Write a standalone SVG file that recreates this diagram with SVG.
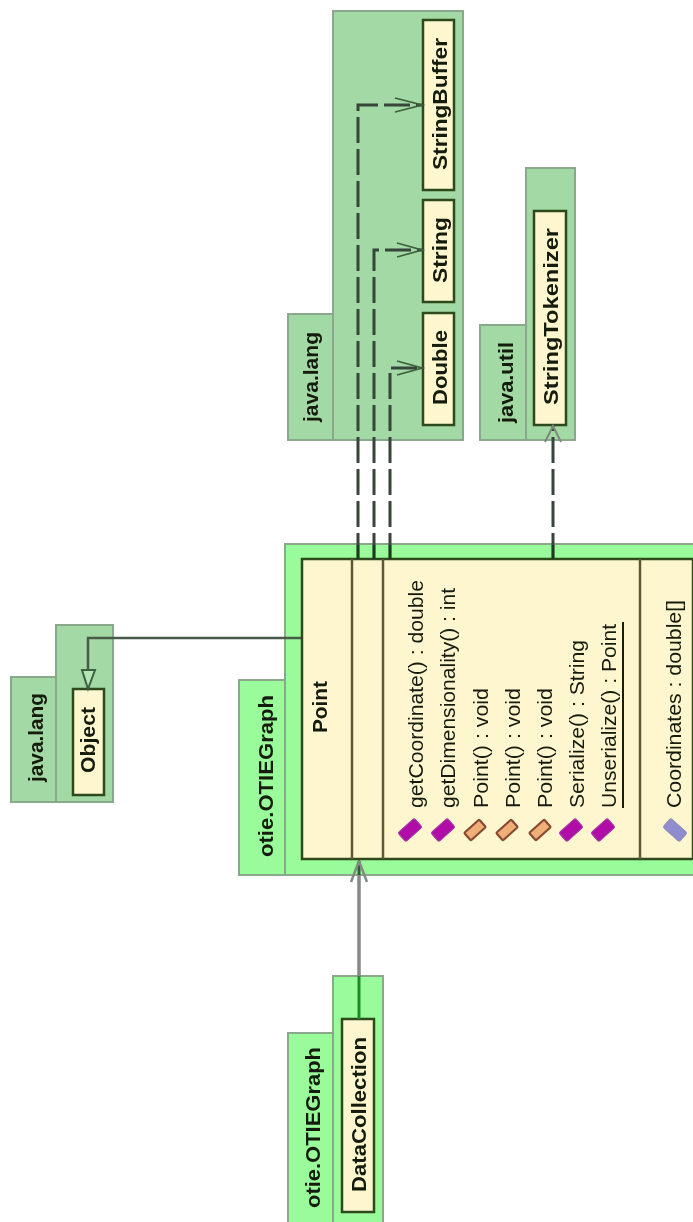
<svg xmlns="http://www.w3.org/2000/svg" width="693" height="1222" viewBox="0 0 693 1222">
<style>
text{font-family:"Liberation Sans",Arial,sans-serif;fill:#141a0c}
.lib{fill:#a3d9a5;stroke:#8aa88c;stroke-width:2}
.own{fill:#99fb99;stroke:#8aa88c;stroke-width:2}
.cls{fill:#fdf6cf;stroke:#2f4a1c;stroke-width:2.5}
.sep{stroke:#5c5a3a;stroke-width:2.5;fill:none}
.b{font-weight:bold;font-size:20px}
.m{font-size:21px}
.dash{fill:none;stroke:#37453a;stroke-width:3;stroke-dasharray:26 6}
.head{fill:none;stroke:#3d5f3f;stroke-width:1.8}
.pub{fill:#b011a8;stroke:#a03aa0;stroke-width:1}
.pri{fill:#eeb078;stroke:#8a4a30;stroke-width:2.2}
.fld{fill:#8f8ccf;stroke:#8f8fb8;stroke-width:1}
</style>
<defs>
<filter id="soft" x="0" y="0" width="693" height="1222" filterUnits="userSpaceOnUse"><feGaussianBlur stdDeviation="0.7"/></filter>
</defs>
<rect width="693" height="1222" fill="#fff"/>
<g filter="url(#soft)">
<g id="pkg-java-lang-top">
<rect class="lib" x="288" y="314" width="45" height="126"/>
<rect class="lib" x="333" y="11" width="130" height="429"/>
<text class="b" transform="translate(318 422) rotate(-90)" textLength="90" lengthAdjust="spacingAndGlyphs">java.lang</text>
</g>
<g id="pkg-java-util">
<rect class="lib" x="480" y="325" width="46" height="115"/>
<rect class="lib" x="526" y="168" width="49" height="272"/>
<text class="b" transform="translate(513 423) rotate(-90)" textLength="81" lengthAdjust="spacingAndGlyphs">java.util</text>
</g>
<g id="pkg-java-lang-object">
<rect class="lib" x="11" y="677" width="45" height="125"/>
<rect class="lib" x="56" y="625" width="57" height="177"/>
<text class="b" transform="translate(43 782) rotate(-90)" textLength="89" lengthAdjust="spacingAndGlyphs">java.lang</text>
</g>
<g id="pkg-otie-point">
<rect class="own" x="239" y="680" width="46" height="195"/>
<rect class="own" x="285" y="544" width="410" height="331"/>
<text class="b" transform="translate(273 857) rotate(-90)" textLength="162" lengthAdjust="spacingAndGlyphs">otie.OTIEGraph</text>
</g>
<g id="pkg-otie-datacollection">
<rect class="own" x="288" y="1033" width="45" height="191"/>
<rect class="own" x="333" y="976" width="50" height="248"/>
<text class="b" transform="translate(320 1208) rotate(-90)" textLength="161" lengthAdjust="spacingAndGlyphs">otie.OTIEGraph</text>
</g>
<g id="class-StringBuffer">
<rect class="cls" x="423" y="20" width="31" height="170"/>
<text class="b" transform="translate(447 170) rotate(-90)" textLength="132" lengthAdjust="spacingAndGlyphs">StringBuffer</text>
</g>
<g id="class-String">
<rect class="cls" x="423" y="200" width="31" height="102"/>
<text class="b" transform="translate(447 283) rotate(-90)" textLength="66" lengthAdjust="spacingAndGlyphs">String</text>
</g>
<g id="class-Double">
<rect class="cls" x="423" y="313" width="31" height="112"/>
<text class="b" transform="translate(447 405) rotate(-90)" textLength="75" lengthAdjust="spacingAndGlyphs">Double</text>
</g>
<g id="class-StringTokenizer">
<rect class="cls" x="534" y="211" width="32" height="214"/>
<text class="b" transform="translate(558 405) rotate(-90)" textLength="177" lengthAdjust="spacingAndGlyphs">StringTokenizer</text>
</g>
<g id="class-Object">
<rect class="cls" x="73" y="689" width="31" height="106"/>
<text class="b" transform="translate(95 773) rotate(-90)" textLength="66" lengthAdjust="spacingAndGlyphs">Object</text>
</g>
<g id="class-DataCollection">
<rect class="cls" x="342" y="1019" width="32" height="193"/>
<text class="b" transform="translate(366 1192) rotate(-90)" textLength="155" lengthAdjust="spacingAndGlyphs">DataCollection</text>
</g>
<g id="connectors">
<path class="dash" d="M358 559V105H423"/>
<path class="dash" d="M374 559V250H423"/>
<path class="dash" d="M390 559V368H423"/>
<path class="head" d="M395 98L422 105L395 112"/>
<path class="head" d="M397 243L422 250L397 257"/>
<path class="head" d="M397 361L422 368L397 375"/>
<path class="dash" d="M553 559V425"/>
<path d="M545 442L553 426L561 442" fill="none" stroke="#7a8a7a" stroke-width="2"/>
<path d="M302 638H88V671" fill="none" stroke="#4a5a48" stroke-width="2.5"/>
<path d="M88 689L82 670H95Z" fill="#b5e6b5" stroke="#3d5f3f" stroke-width="2"/>
<path d="M359 976V875" fill="none" stroke="#848a84" stroke-width="3.5"/>
<path d="M359 1019V976" fill="none" stroke="#1e8a2a" stroke-width="3"/>
<path d="M359 875V861" fill="none" stroke="#2f5a3a" stroke-width="3"/>
<path d="M351 882L359 861L367 882" fill="none" stroke="#848a84" stroke-width="2.5"/>
</g>
<g id="class-Point">
<rect class="cls" x="302" y="559" width="391" height="300"/>
<path class="sep" d="M352 559V859M383 559V859M640 559V859"/>
<text class="b" transform="translate(327 733) rotate(-90)" textLength="52" lengthAdjust="spacingAndGlyphs">Point</text>
<text class="m" transform="translate(423 808) rotate(-90)" textLength="228" lengthAdjust="spacingAndGlyphs">getCoordinate() : double</text>
<text class="m" transform="translate(455 808) rotate(-90)" textLength="220" lengthAdjust="spacingAndGlyphs">getDimensionality() : int</text>
<text class="m" transform="translate(488 808) rotate(-90)" textLength="120" lengthAdjust="spacingAndGlyphs">Point() : void</text>
<text class="m" transform="translate(520 808) rotate(-90)" textLength="120" lengthAdjust="spacingAndGlyphs">Point() : void</text>
<text class="m" transform="translate(552 808) rotate(-90)" textLength="120" lengthAdjust="spacingAndGlyphs">Point() : void</text>
<text class="m" transform="translate(584 808) rotate(-90)" textLength="168" lengthAdjust="spacingAndGlyphs">Serialize() : String</text>
<text class="m" transform="translate(616 808) rotate(-90)" textLength="184" lengthAdjust="spacingAndGlyphs">Unserialize() : Point</text>
<path d="M623 808V622" stroke="#1a1a10" stroke-width="2" fill="none"/>
<text class="m" transform="translate(681 808) rotate(-90)" textLength="208" lengthAdjust="spacingAndGlyphs">Coordinates : double[]</text>
<g id="icons">
<rect class="pub" x="399" y="824" width="22" height="12" rx="2" transform="rotate(-42 410 830)"/>
<rect class="pub" x="432" y="824" width="22" height="12" rx="2" transform="rotate(-42 443 830)"/>
<rect class="pri" x="465" y="825" width="20" height="10" rx="1" transform="rotate(-42 475 830)"/>
<rect class="pri" x="497" y="825" width="20" height="10" rx="1" transform="rotate(-42 507 830)"/>
<rect class="pri" x="530" y="825" width="20" height="10" rx="1" transform="rotate(-42 540 830)"/>
<rect class="pub" x="560" y="824" width="22" height="12" rx="2" transform="rotate(-42 571 830)"/>
<rect class="pub" x="592" y="824" width="22" height="12" rx="2" transform="rotate(-42 603 830)"/>
<rect class="fld" x="664" y="824" width="22" height="12" rx="2" transform="rotate(42 675 830)"/>
</g>
</g>
<path d="M358 545V559M374 545V559M390 545V559M553 545V559" stroke="#1f3a22" stroke-width="2.5" fill="none"/>
</g>
</svg>
